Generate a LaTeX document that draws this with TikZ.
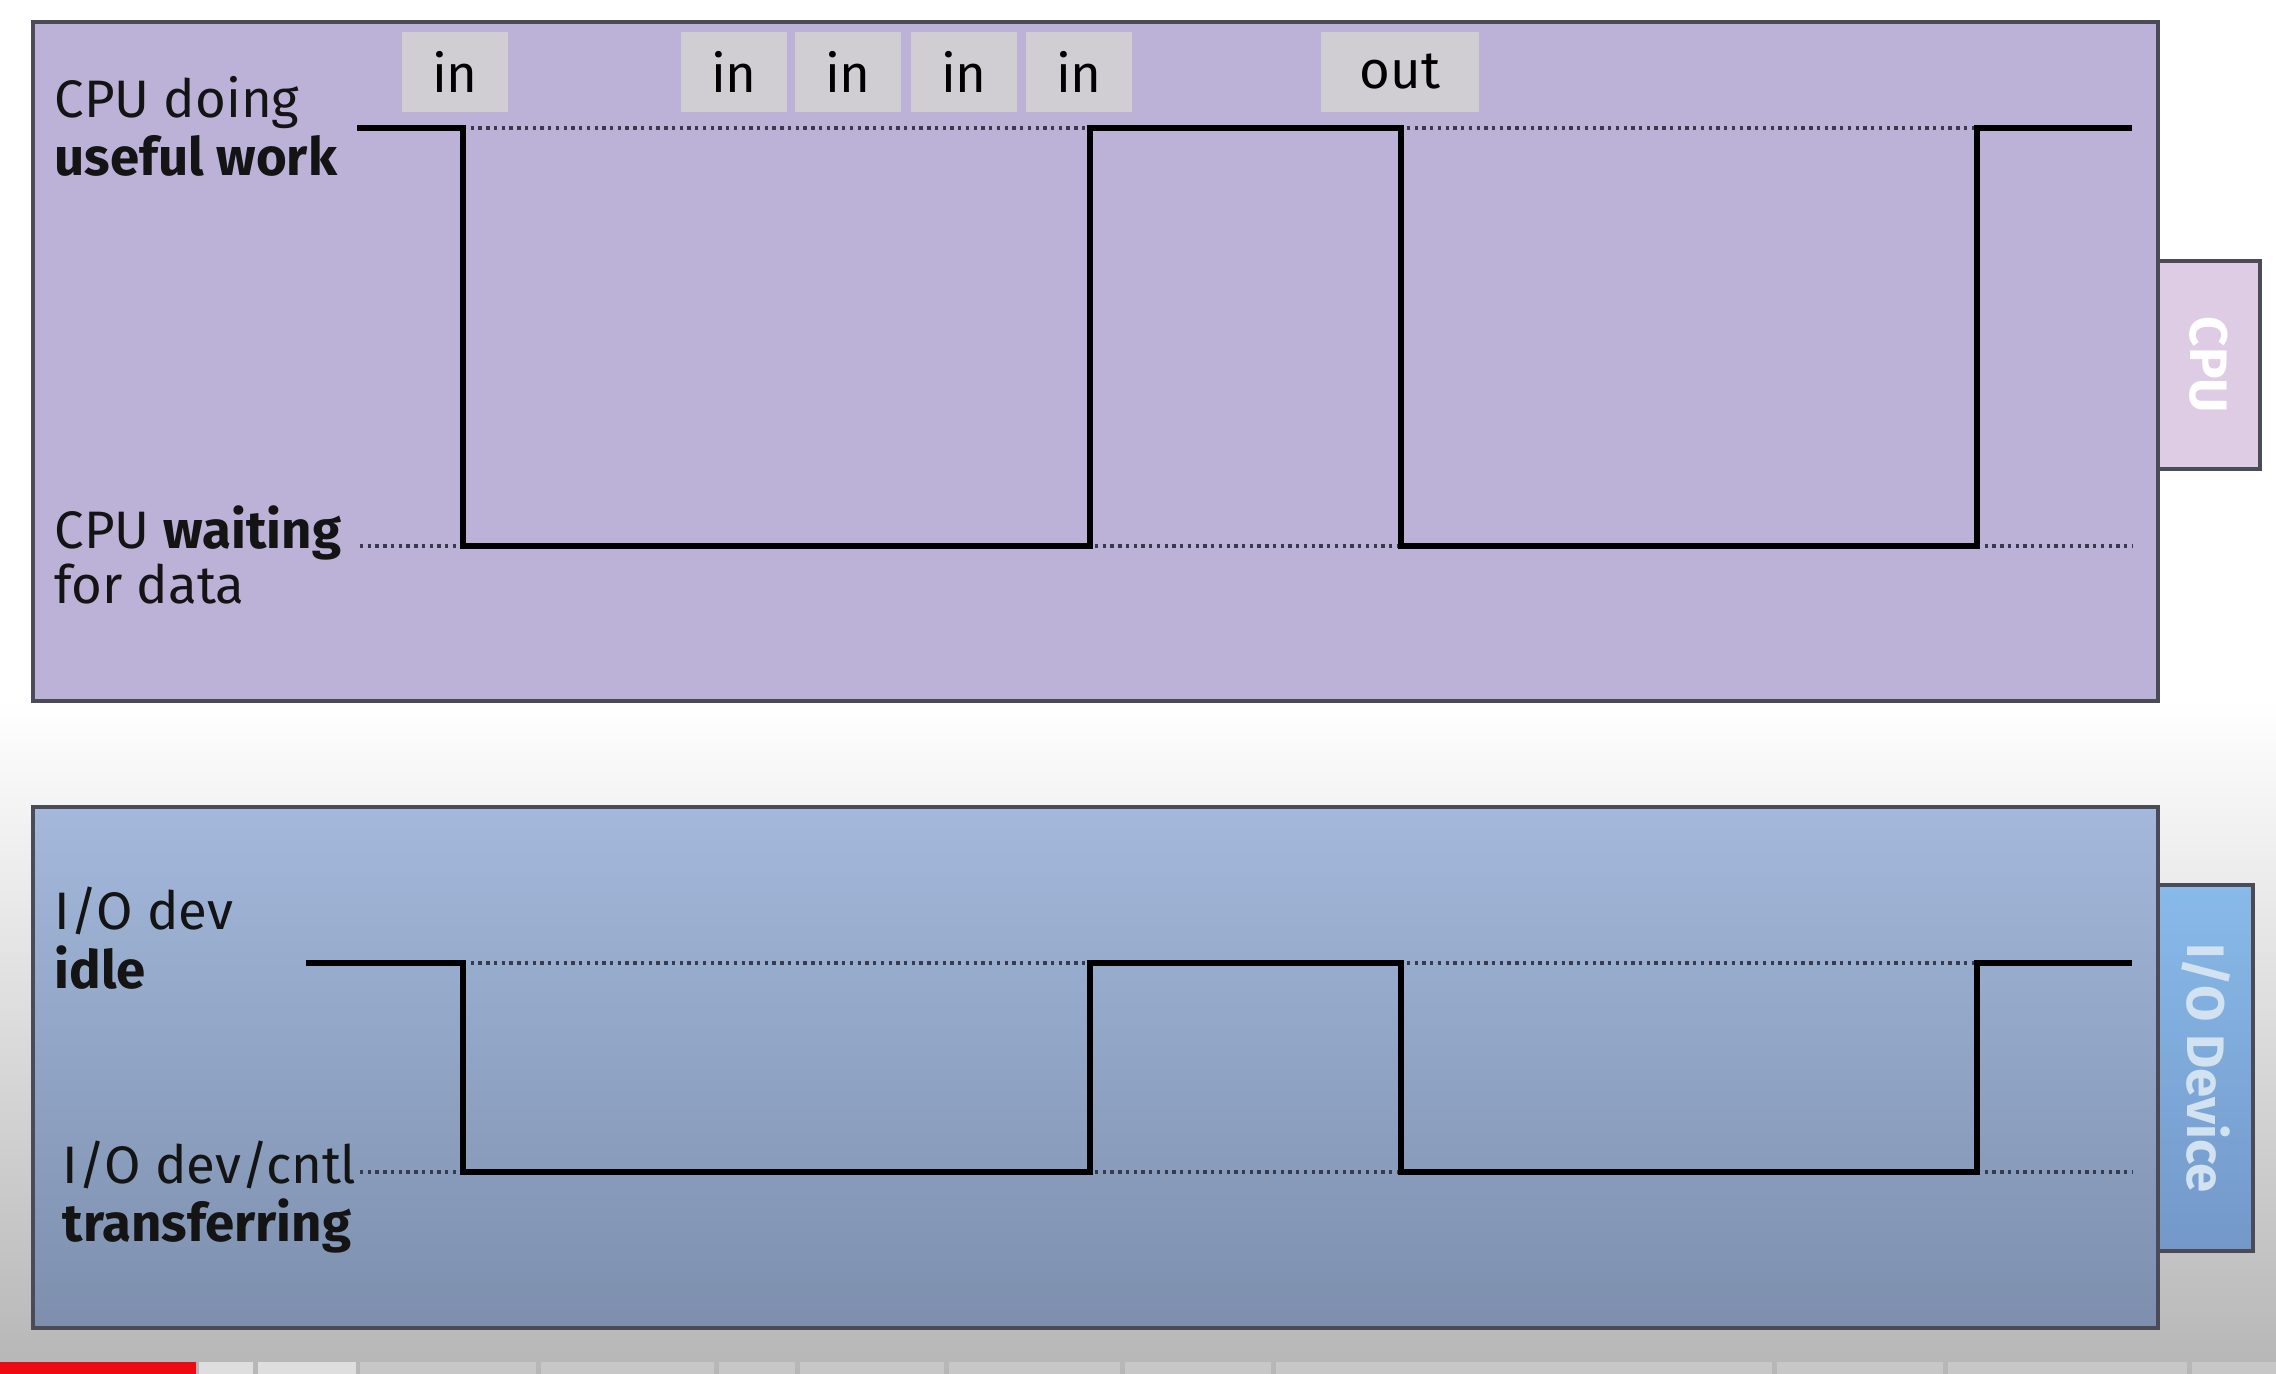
\documentclass[tikz,border=0pt]{standalone}
\usepackage{fontspec}
\setmainfont{Fira Sans}
\usetikzlibrary{positioning}

\definecolor{cpupanel}{HTML}{BCB2D8}
\definecolor{cputab}{HTML}{DDCCE4}
\definecolor{iotop}{HTML}{A3B8DB}
\definecolor{iobot}{HTML}{7D8FAD}
\definecolor{iotabtop}{HTML}{88BAE9}
\definecolor{iotabbot}{HTML}{7398C9}
\definecolor{tagfill}{HTML}{D0CED3}
\definecolor{framecol}{HTML}{4B4B58}
\definecolor{dotcol}{HTML}{3A3A4E}
\definecolor{bgbot}{HTML}{B6B6B6}
\definecolor{ytred}{HTML}{EE0A12}
\newcommand{\txtsize}{\fontsize{15}{18}\selectfont}

\tikzset{
  panel/.style={draw=framecol, line width=0.9pt},
  tag/.style={fill=tagfill, minimum width=1.05cm, minimum height=0.8cm, inner sep=0pt, font=\txtsize},
  lbl/.style={anchor=base west, inner sep=0pt, font=\txtsize, text=black!92},
  wave/.style={line width=1.7pt},
  level/.style={dotcol, line width=0.95pt, dash pattern=on 0.95pt off 1.25pt},
  tabtext/.style={rotate=-90, inner sep=0pt, font=\bfseries\txtsize}
}

\begin{document}
\begin{tikzpicture}[x=0.01cm, y=-0.01cm]
  \useasboundingbox (0,0) rectangle (2276,1374);

  % background and progress bar
  \fill[white] (0,0) rectangle (2276,1374);
  \shade[top color=white, bottom color=bgbot] (0,700) rectangle (2276,1374);
  \fill[ytred] (0,1362) rectangle (196,1374);
  \foreach \a/\b in {199/253, 258/356}
    \fill[black!13] (\a,1362) rectangle (\b,1374);
  \foreach \a/\b in {360/536, 541/714, 719/795, 800/944, 949/1120, 1125/1271, 1276/1772, 1777/1943, 1948/2187, 2192/2276}
    \fill[black!22] (\a,1362) rectangle (\b,1374);

  % side tabs
  \draw[panel, fill=cputab] (2158,261) rectangle (2260,469);
  \node[tabtext, text=white] (cputab) at (2209,365) {CPU};
  \shade[top color=iotabtop, bottom color=iotabbot, draw=framecol, line width=0.9pt] (2158,885) rectangle (2253,1251);
  \node[tabtext, text=black!8!iotabtop!35!white] (iotab) at (2206,1068) {I/O Device};

  % panels
  \draw[panel, fill=cpupanel] (33,22) rectangle (2158,701);
  \shade[top color=iotop, bottom color=iobot] (33,807) rectangle (2158,1328);
  \draw[panel] (33,807) rectangle (2158,1328);

  % levels and edges
  \coordinate (cpuhi) at (0,128);
  \coordinate (cpulo) at (0,546);
  \coordinate (iohi) at (0,963);
  \coordinate (iolo) at (0,1172);
  \coordinate (t1) at (463,0);
  \coordinate (t2) at (1090,0);
  \coordinate (t3) at (1401,0);
  \coordinate (t4) at (1977,0);
  \coordinate (tend) at (2132,0);
  \coordinate (cpustart) at (357,0);
  \coordinate (iostart) at (306,0);
  \coordinate (dotstart) at (360,0);

  \draw[level] (t1 |- cpuhi) -- (tend |- cpuhi);
  \draw[level] (dotstart |- cpulo) -- (tend |- cpulo);
  \draw[level] (t1 |- iohi) -- (tend |- iohi);
  \draw[level] (dotstart |- iolo) -- (tend |- iolo);

  \draw[wave] (cpustart |- cpuhi) -| (t1 |- cpulo) -| (t2 |- cpuhi) -| (t3 |- cpulo) -| (t4 |- cpuhi) -- (tend |- cpuhi);
  \draw[wave] (iostart |- iohi) -| (t1 |- iolo) -| (t2 |- iohi) -| (t3 |- iolo) -| (t4 |- iohi) -- (tend |- iohi);

  % transfers
  \foreach \x [count=\i] in {455, 734, 848, 964, 1079}
    \node[tag] (in\i) at (\x,72) {in};
  \node[tag, minimum width=1.57cm] (out1) at (1400,72) {out};

  % labels
  \node[lbl] (doing) at (54,118) {CPU doing};
  \node[lbl] (useful) at (54,176) {\bfseries useful work};
  \node[lbl] (waiting) at (54,549) {CPU \textbf{waiting}};
  \node[lbl] (fordata) at (54,604) {for data};
  \node[lbl] (iodev) at (54,930) {I/O dev};
  \node[lbl] (idle) at (54,989) {\bfseries idle};
  \node[lbl] (iocntl) at (62,1183) {I/O dev/cntl};
  \node[lbl] (transf) at (62,1241) {\bfseries transferring};
\end{tikzpicture}
\end{document}
